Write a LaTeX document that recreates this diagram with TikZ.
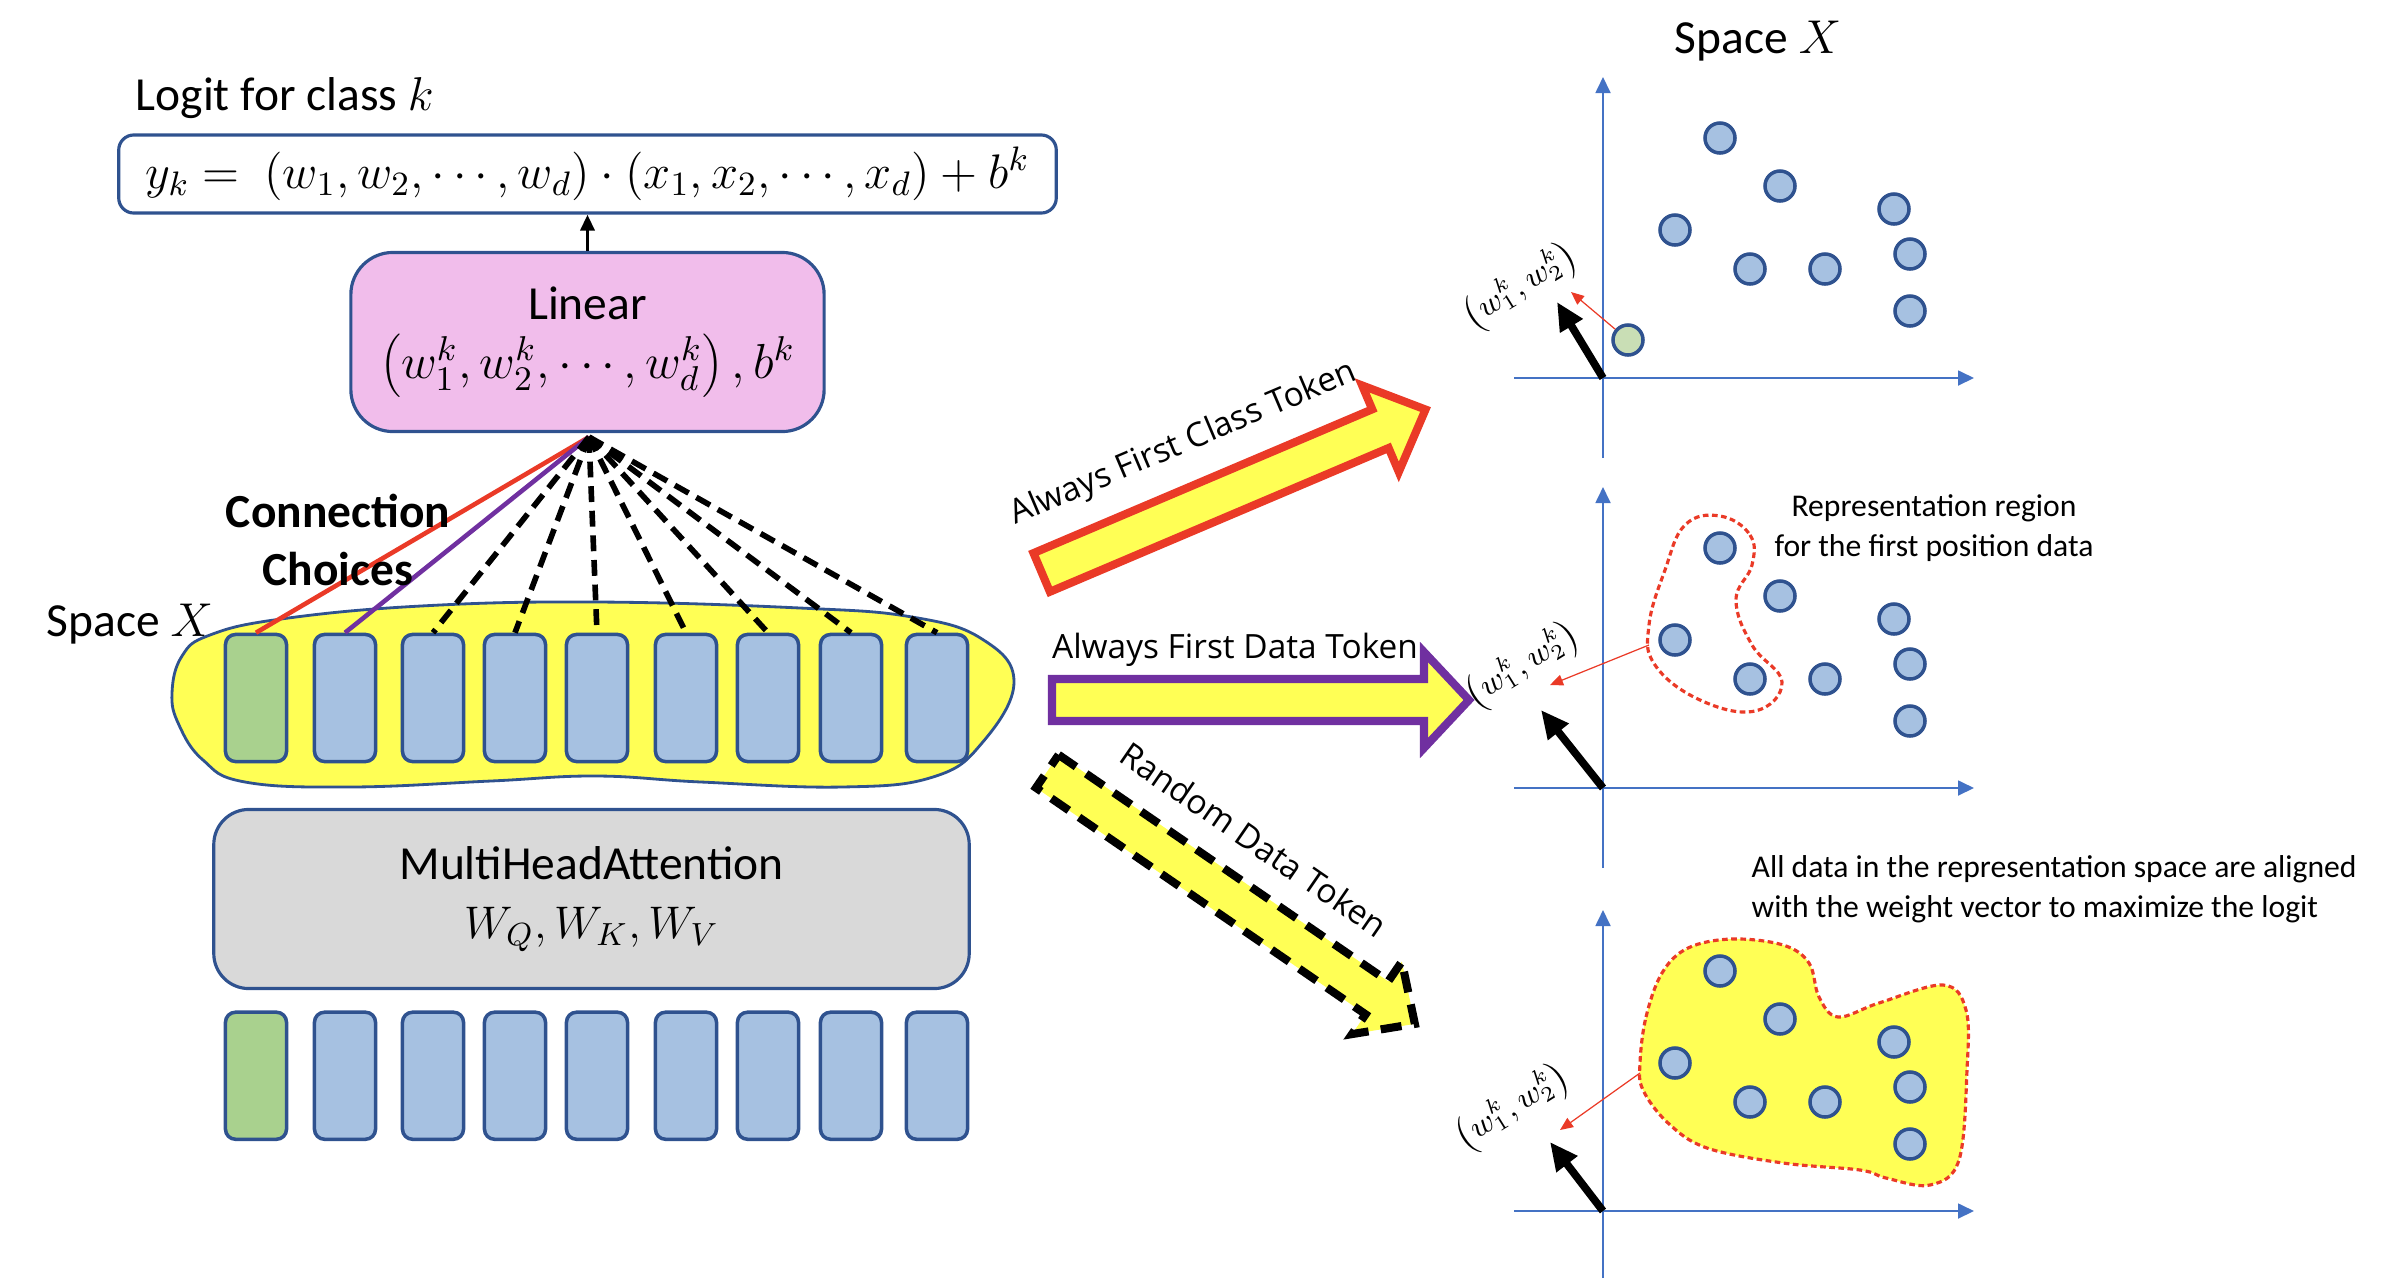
\RequirePackage{fix-cm}
\documentclass[tikz,border=0pt]{standalone}
\usepackage{fontspec}
\setmainfont{Carlito}
\newfontfamily\arrowfont{Open Sans}
\usetikzlibrary{arrows.meta, positioning, calc}

\definecolor{tokblue}{RGB}{166,193,225}
\definecolor{tokgreen}{RGB}{169,209,142}
\definecolor{dotgreen}{RGB}{201,222,181}
\definecolor{edgeblue}{RGB}{47,82,143}
\definecolor{linpink}{RGB}{241,189,235}
\definecolor{mhagray}{RGB}{217,217,217}
\definecolor{hiyellow}{RGB}{255,255,85}
\definecolor{arrred}{RGB}{234,58,39}
\definecolor{arrpurple}{RGB}{112,48,160}
\definecolor{axisblue}{RGB}{68,114,196}

\begin{document}
\begin{tikzpicture}[x=0.01cm, y=-0.01cm,
    txt/.style={font=\fontsize{13.5}{16.5}\selectfont, inner sep=0pt},
    note/.style={font=\fontsize{9}{11.5}\selectfont, inner sep=0pt},
    arrowlbl/.style={font=\arrowfont\fontsize{9.5}{11}\selectfont, inner sep=0pt},
    box/.style={draw=edgeblue, line width=0.9pt, inner sep=0pt},
    token/.style={draw=edgeblue, line width=1pt, rounded corners=0.1cm, minimum width=0.61cm, minimum height=1.27cm, inner sep=0pt},
    dot/.style={circle, draw=edgeblue, line width=1pt, fill=tokblue, minimum size=0.3cm, inner sep=0pt},
    axis/.style={axisblue, line width=0.5pt, -{Triangle[length=0.16cm, width=0.15cm]}},
    wvec/.style={line width=2.2pt, -{Triangle[length=0.28cm, width=0.25cm]}},
    pull/.style={arrred, line width=0.35pt, -{Triangle[length=0.13cm, width=0.11cm]}},
    choice/.style={black, line width=1.6pt, dash pattern=on 4.5pt off 2.5pt},
    bigarrow/.style={fill=hiyellow, line width=2.3pt},
    region/.style={arrred, line width=0.9pt, dash pattern=on 1.6pt off 1pt}]
\useasboundingbox (0,0) rectangle (2402,1278);

% logit output
\node[txt, anchor=base west] (logit) at (135,110) {Logit for class $k$};
\node[box, rounded corners=0.15cm, minimum width=9.37cm, minimum height=0.78cm] (form) at (587.5,174)
  {\fontsize{13.8}{16}\selectfont $y_k =\ \left(w_1, w_2, \cdots, w_d\right)\cdot\left(x_1, x_2, \cdots, x_d\right) + b^k$};

% linear layer
\node[box, fill=linpink, rounded corners=0.42cm, minimum width=4.73cm, minimum height=1.79cm, align=center,
  font=\fontsize{13.5}{16.8}\selectfont] (lin) at (587.5,342)
  {Linear\\{\fontsize{14}{16.8}\selectfont$\left(w_1^k, w_2^k, \cdots, w_d^k\right), b^k$}};
\draw[line width=1pt, -{Triangle[length=0.16cm, width=0.14cm]}] (lin.north) -- (form.south);

% space X around the tokens
\draw[edgeblue, line width=0.8pt, fill=hiyellow] plot[smooth cycle, tension=0.7] coordinates
  {(172,693) (182,656) (210,635) (281,619) (421,606) (596,602) (800,608) (912,617) (982,639)
   (1014,682) (982,743) (933,777) (842,787) (701,782) (596,776) (491,781) (351,787) (245,782) (203,760) (179,725)};
\node[txt, anchor=base west] (spx) at (46,636) {Space $X$};

% tokens before and after attention
\foreach \x/\c [count=\i] in {256/tokgreen, 345/tokblue, 433/tokblue, 515/tokblue, 597/tokblue,
                              686/tokblue, 768/tokblue, 851/tokblue, 937/tokblue} {
  \node[token, fill=\c] (t\i) at (\x,698) {};
  \node[token, fill=\c, below=2.47cm of t\i] (b\i) {};
}

% connection choices
\coordinate (fan) at (589,437);
\draw[arrred, line width=1.3pt] (fan) -- (t1.north);
\draw[arrpurple, line width=1.3pt] (fan) -- (t2.north);
\foreach \i in {3,...,9}
  \draw[choice] (fan) -- (t\i.north);
\node[txt, font=\fontsize{13.5}{16.5}\selectfont\bfseries, align=center] (conn) at (338,540) {Connection\\Choices};

% attention block
\node[box, fill=mhagray, rounded corners=0.35cm, minimum width=7.55cm, minimum height=1.79cm, align=center,
  font=\fontsize{13.5}{17}\selectfont] (mha) at (591.5,899)
  {MultiHeadAttention\\{\fontsize{13}{17}\selectfont$W_Q, W_K, W_V$}};

% the three choices
\begin{scope}[shift={(1038,574)}, rotate=23]
  \draw[bigarrow, draw=arrred] (4,-21) -- (372,-21) -- (372,-47) -- (421,0) -- (372,47) -- (372,21) -- (4,21) -- cycle;
\end{scope}
\node[arrowlbl, rotate=23, anchor=base] (lblclass) at (1187,452) {Always First Class Token};

\begin{scope}[shift={(1048,700)}]
  \draw[bigarrow, draw=arrpurple] (4,-21) -- (376,-21) -- (376,-48) -- (421,0) -- (376,48) -- (376,21) -- (4,21) -- cycle;
\end{scope}
\node[arrowlbl, anchor=base] (lbldata) at (1235,658) {Always First Data Token};

\begin{scope}[shift={(1044,769)}, rotate=-34.5]
  \draw[bigarrow, draw=black, dash pattern=on 6pt off 3.5pt] (4,-20) -- (404,-20) -- (404,-44) -- (450,0) -- (404,44) -- (404,20) -- (4,20) -- cycle;
\end{scope}
\node[arrowlbl, rotate=-34.5, anchor=base] (lblrand) at (1247,850) {Random Data Token};

% space X plots
\node[txt, anchor=base] (spxtop) at (1758,53) {Space $X$};

\draw[region] plot[smooth cycle, tension=0.7] coordinates
  {(1720,516) (1750,535) (1752,565) (1736,600) (1752,645) (1782,682) (1755,711) (1700,700)
   (1655,665) (1649,625) (1665,570) (1685,525)};
\draw[region, fill=hiyellow] plot[smooth cycle, tension=0.6] coordinates
  {(1640,1063) (1646,1017) (1662,973) (1688,948) (1732,939) (1783,945) (1809,963) (1819,997)
   (1838,1017) (1879,1003) (1943,985) (1966,1010) (1967,1070) (1959,1160) (1930,1185) (1886,1178)
   (1860,1170) (1783,1163) (1707,1148) (1668,1123) (1643,1090)};

\foreach \dy/\bot/\wx/\wy/\lx/\ly [count=\p] in {0/80/-46/-76/-82/-91, 410/80/-62/-78/-80/-122, 833/67/-53/-69/-90/-103} {
  \begin{scope}[shift={(0,\dy)}]
    \coordinate (o\p) at (1603,378);
    \draw[axis] ($(o\p)+(0,\bot)$) -- (1603,77);
    \draw[axis] (1514,378) -- (1974,378);
    \foreach \x/\y [count=\i] in {1720/138, 1780/186, 1675/230, 1750/269, 1825/269, 1894/209, 1910/254, 1910/311}
      \node[dot] (d\p-\i) at (\x,\y) {};
    \draw[wvec] (o\p) -- ($(o\p)+(\wx,\wy)$);
    \node[font=\fontsize{9}{11}\selectfont, rotate=32, inner sep=0pt] (w\p) at ($(o\p)+(\lx,\ly)$) {$\left(w_1^k, w_2^k\right)$};
  \end{scope}
}

% plot 1: the class token
\node[dot, fill=dotgreen] (g1) at (1628,340) {};
\draw[pull] (g1) -- (1571,292);

% plot 2: first data token region
\coordinate (r2) at (1649,645);
\draw[pull] (r2) -- (1550,685);
\node[note, align=center] (rep) at (1934,528) {Representation region\\for the first position data};

% plot 3: all data
\coordinate (r3) at (1640,1073);
\draw[pull] (r3) -- (1560,1130);
\node[note, align=left, anchor=west] (alld) at (1751,889)
  {All data in the representation space are aligned\\with the weight vector to maximize the logit};
\end{tikzpicture}
\end{document}
